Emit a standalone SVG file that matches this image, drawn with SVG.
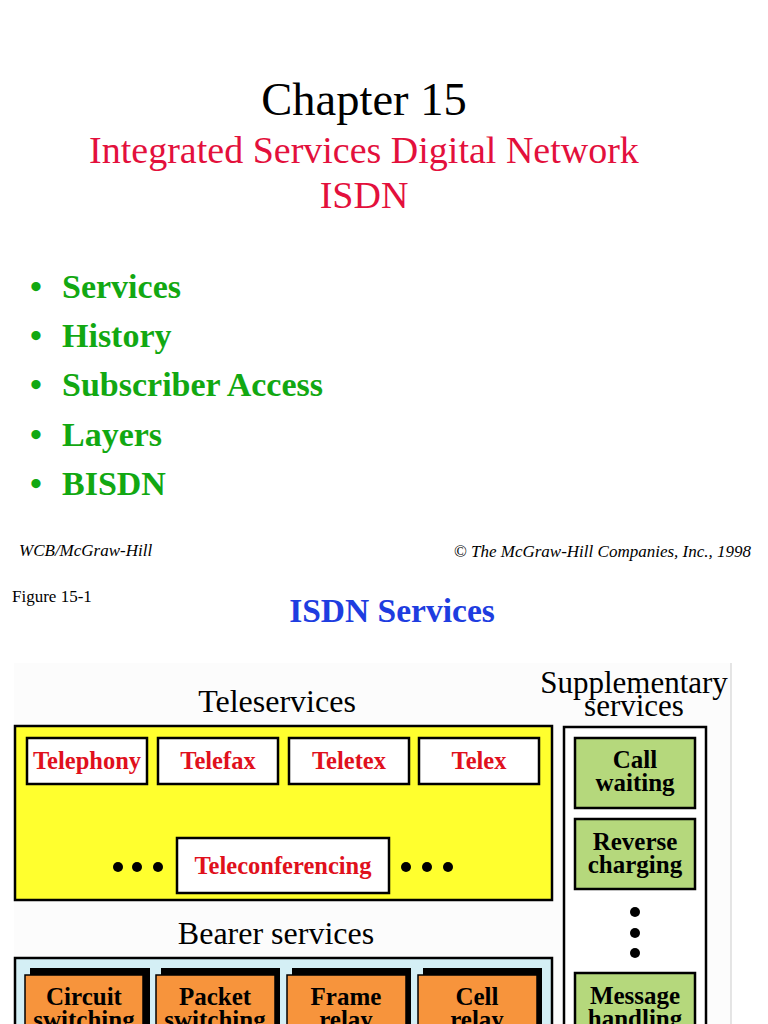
<svg xmlns="http://www.w3.org/2000/svg" width="768" height="1024" viewBox="0 0 768 1024">
<style>
.serif{font-family:"Liberation Serif","Times New Roman",serif}
.title{font-size:46.5px;fill:#000;text-anchor:middle}
.sub{font-size:38px;fill:#e3103c;text-anchor:middle}
.bul{font-size:34px;font-weight:bold;fill:#12a812}
.foot{font-size:17px;font-style:italic;fill:#000}
.lbl{font-size:32px;fill:#000;text-anchor:middle}
.tele{fill:#fff;stroke:#000;stroke-width:2.5}
.tt{font-size:24.5px;font-weight:bold;fill:#e0101c;text-anchor:middle}
.org{fill:#f7943c;stroke:#000;stroke-width:1.5}
.shadow{fill:#000}
.bt{font-size:25px;font-weight:bold;fill:#000;text-anchor:middle}
.grn{fill:#b5d87c;stroke:#000;stroke-width:2.5}
</style>
<rect width="768" height="1024" fill="#fff"/>
<g id="header" class="serif">
<text class="title" x="364" y="115">Chapter 15</text>
<text class="sub" x="364" y="163">Integrated Services Digital Network</text>
<text class="sub" x="364" y="208">ISDN</text>
</g>
<g id="bullets" class="serif">
<text class="bul" x="30" y="298">•</text><text class="bul" x="62" y="298">Services</text>
<text class="bul" x="30" y="347">•</text><text class="bul" x="62" y="347">History</text>
<text class="bul" x="30" y="396">•</text><text class="bul" x="62" y="396">Subscriber Access</text>
<text class="bul" x="30" y="446">•</text><text class="bul" x="62" y="446">Layers</text>
<text class="bul" x="30" y="495">•</text><text class="bul" x="62" y="495">BISDN</text>
</g>
<g id="footer" class="serif">
<text class="foot" x="19" y="556">WCB/McGraw-Hill</text>
<text class="foot" x="751" y="557" text-anchor="end">© The McGraw-Hill Companies, Inc., 1998</text>
<text x="12" y="602" style="font-size:17px" fill="#000">Figure 15-1</text>
<text x="392" y="622" text-anchor="middle" style="font-size:33.5px;font-weight:bold" fill="#1e3de0">ISDN Services</text>
</g>
<rect x="14" y="663" width="717" height="361" fill="#fcfcfc"/>
<line x1="731" y1="663" x2="731" y2="1024" stroke="#dcdcdc" stroke-width="1.5"/>
<g id="teleservices" class="serif">
<text class="lbl" x="277" y="712">Teleservices</text>
<rect x="15" y="726" width="537" height="174" fill="#ffff2e" stroke="#000" stroke-width="2.5"/>
</g>
<g id="telephony" class="serif"><rect class="tele" x="27" y="738" width="120" height="46"/><text class="tt" x="87" y="769">Telephony</text></g>
<g id="telefax" class="serif"><rect class="tele" x="158" y="738" width="120" height="46"/><text class="tt" x="218" y="769">Telefax</text></g>
<g id="teletex" class="serif"><rect class="tele" x="289" y="738" width="120" height="46"/><text class="tt" x="349" y="769">Teletex</text></g>
<g id="telex" class="serif"><rect class="tele" x="419" y="738" width="120" height="46"/><text class="tt" x="479" y="769">Telex</text></g>
<g id="teleconferencing" class="serif"><rect class="tele" x="177" y="838" width="212" height="55"/><text class="tt" x="283" y="874">Teleconferencing</text></g>
<g id="bearer" class="serif">
<text class="lbl" x="276" y="944">Bearer services</text>
<rect x="15" y="958" width="537" height="80" fill="#d4eff5" stroke="#000" stroke-width="2.5"/>
</g>
<g id="circuit" class="serif"><rect class="shadow" x="30" y="968" width="120" height="70"/><rect class="org" x="25" y="975" width="118" height="63"/><text class="bt" x="84" y="1005">Circuit</text><text class="bt" x="84" y="1028">switching</text></g>
<g id="packet" class="serif"><rect class="shadow" x="161" y="968" width="119" height="70"/><rect class="org" x="156" y="975" width="119" height="63"/><text class="bt" x="215" y="1005">Packet</text><text class="bt" x="215" y="1028">switching</text></g>
<g id="frame" class="serif"><rect class="shadow" x="292" y="968" width="119" height="70"/><rect class="org" x="287" y="975" width="119" height="63"/><text class="bt" x="346" y="1005">Frame</text><text class="bt" x="346" y="1028">relay</text></g>
<g id="cell" class="serif"><rect class="shadow" x="423" y="968" width="119" height="70"/><rect class="org" x="418" y="975" width="119" height="63"/><text class="bt" x="477" y="1005">Cell</text><text class="bt" x="477" y="1028">relay</text></g>
<g id="supplementary" class="serif">
<text class="lbl" x="634" y="693" style="font-size:31px">Supplementary</text>
<text class="lbl" x="634" y="716" style="font-size:31px">services</text>
<rect x="564" y="727" width="142" height="320" fill="#fff" stroke="#000" stroke-width="2.5"/>
</g>
<g id="callwaiting" class="serif"><rect class="grn" x="575" y="738" width="120" height="70"/><text class="bt" x="635" y="768">Call</text><text class="bt" x="635" y="791">waiting</text></g>
<g id="reverse" class="serif"><rect class="grn" x="575" y="819" width="120" height="70"/><text class="bt" x="635" y="850">Reverse</text><text class="bt" x="635" y="873">charging</text></g>
<g id="message" class="serif"><rect class="grn" x="575" y="973" width="120" height="70"/><text class="bt" x="635" y="1004">Message</text><text class="bt" x="635" y="1027">handling</text></g>
<g id="dots" fill="#000">
<circle cx="118" cy="867" r="5"/><circle cx="137" cy="867" r="5"/><circle cx="158" cy="867" r="5"/>
<circle cx="406" cy="867" r="5"/><circle cx="427" cy="867" r="5"/><circle cx="448" cy="867" r="5"/>
<circle cx="635" cy="912" r="5"/><circle cx="635" cy="933" r="5"/><circle cx="635" cy="953" r="5"/>
</g>
<g id="connectors"></g>
</svg>
